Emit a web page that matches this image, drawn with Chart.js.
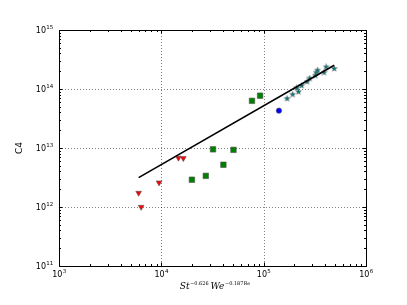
<!DOCTYPE html>
<html>
<head>
<meta charset="utf-8">
<script src="https://cdn.jsdelivr.net/npm/chart.js@4.4.1/dist/chart.umd.min.js"></script>
<style>
  html, body { margin: 0; padding: 0; background: #fff; }
  #wrap { width: 407px; height: 305px; }
</style>
</head>
<body>
<div id="wrap"><canvas id="c4Chart" width="407" height="305"></canvas></div>
<script>
// values, both axes logarithmic
const triX = [6000, 6350, 9500, 14700, 16400];
const triY = [1.73e12, 1.0e12, 2.59e12, 6.8e12, 6.7e12];
const sqX = [19900, 27200, 32000, 40400, 50700, 76900, 92300];
const sqY = [2.9e12, 3.37e12, 9.5e12, 5.2e12, 9.3e12, 6.3e13, 7.7e13];
const dotX = [141000];
const dotY = [4.3e13];
const starX = [169300, 191900, 218800, 210700, 235000, 265500, 281700, 320000, 326800, 336300, 389000, 407800, 489000];
const starY = [6.93e13, 8.16e13, 9.04e13, 1.05e14, 1.15e14, 1.34e14, 1.53e14, 1.71e14, 1.92e14, 2.09e14, 1.92e14, 2.38e14, 2.23e14];
const fitX = [6000, 489000];
const fitY = [3.14e12, 2.53e14];
const xTicks = [1e3, 1e4, 1e5, 1e6];
const yTicks = [1e11, 1e12, 1e13, 1e14, 1e15];
const xTitle = [['St', '\u22120.626'], ['We', '\u22120.187Re']];
const yTitle = 'C4';

const pts = (xs, ys) => xs.map((x, i) => ({ x: x, y: ys[i] }));

// matplotlib-like filled star marker
function makeStar() {
  const c = document.createElement('canvas');
  c.width = 7; c.height = 7;
  const g = c.getContext('2d');
  g.beginPath();
  for (let i = 0; i < 10; i++) {
    const r = i % 2 ? 1.3 : 3.1;
    const a = -Math.PI / 2 + i * Math.PI / 5;
    g.lineTo(3.5 + r * Math.cos(a), 3.7 + r * Math.sin(a));
  }
  g.closePath();
  g.fillStyle = '#007575';
  g.fill();
  g.lineWidth = 0.5;
  g.strokeStyle = '#666';
  g.stroke();
  return c;
}

function powLabel(ctx, exp, x, y, align) {
  ctx.font = '8px "DejaVu Sans"';
  const w1 = ctx.measureText('10').width;
  ctx.font = '5.5px "DejaVu Sans"';
  const w2 = ctx.measureText(exp).width;
  let x0 = align === 'right' ? x - w1 - w2 : x - (w1 + w2) / 2;
  ctx.textAlign = 'left';
  ctx.textBaseline = 'alphabetic';
  ctx.font = '8px "DejaVu Sans"';
  ctx.fillText('10', x0, y);
  ctx.font = '5.5px "DejaVu Sans"';
  ctx.fillText(exp, x0 + w1 + 0.3, y - 4.2);
}

const axesDeco = {
  id: 'axesDeco',
  beforeDatasetsDraw(chart) {
    const { ctx, chartArea: a, scales } = chart;
    ctx.save();
    ctx.strokeStyle = 'rgba(0,0,0,0.5)';
    ctx.lineWidth = 1;
    ctx.setLineDash([1, 2]);
    xTicks.slice(1, -1).forEach(v => {
      const px = Math.round(scales.x.getPixelForValue(v)) + 0.5;
      ctx.beginPath(); ctx.moveTo(px, a.top); ctx.lineTo(px, a.bottom); ctx.stroke();
    });
    yTicks.slice(1, -1).forEach(v => {
      const py = Math.round(scales.y.getPixelForValue(v)) + 0.5;
      ctx.beginPath(); ctx.moveTo(a.left, py); ctx.lineTo(a.right, py); ctx.stroke();
    });
    ctx.restore();
  },
  afterDraw(chart) {
    const { ctx, chartArea: a, scales } = chart;
    ctx.save();
    ctx.strokeStyle = '#000';
    ctx.lineWidth = 1;
    ctx.strokeRect(a.left + 0.5, a.top + 0.5, a.right - a.left, a.bottom - a.top);

    // ticks, inside, on all four sides
    const tick = (x1, y1, x2, y2) => { ctx.beginPath(); ctx.moveTo(x1, y1); ctx.lineTo(x2, y2); ctx.stroke(); };
    const xs = scales.x, ys = scales.y;
    for (let d = 3; d < 6; d++) {
      for (let m = 1; m < 10; m++) {
        const px = Math.round(xs.getPixelForValue(m * Math.pow(10, d))) + 0.5;
        const len = m === 1 ? 3.5 : 2;
        tick(px, a.bottom, px, a.bottom - len);
        tick(px, a.top, px, a.top + len);
      }
    }
    for (let d = 11; d < 15; d++) {
      for (let m = 1; m < 10; m++) {
        const py = Math.round(ys.getPixelForValue(m * Math.pow(10, d))) + 0.5;
        const len = m === 1 ? 3.5 : 2;
        tick(a.left, py, a.left + len, py);
        tick(a.right, py, a.right - len, py);
      }
    }

    // tick labels
    ctx.fillStyle = '#000';
    xTicks.forEach(v => powLabel(ctx, String(Math.round(Math.log10(v))), xs.getPixelForValue(v), a.bottom + 11, 'center'));
    yTicks.forEach(v => powLabel(ctx, String(Math.round(Math.log10(v))), a.left - 6, ys.getPixelForValue(v) + 3, 'right'));

    // axis titles
    ctx.save();
    ctx.translate(20, (a.top + a.bottom) / 2);
    ctx.rotate(-Math.PI / 2);
    ctx.textAlign = 'center';
    ctx.textBaseline = 'middle';
    ctx.font = '9px "DejaVu Sans"';
    ctx.fillText(yTitle, 0, 0);
    ctx.restore();

    const big = 'italic 9px "DejaVu Serif"', small = '5px "DejaVu Serif"';
    let total = 0;
    xTitle.forEach(([b, s], i) => {
      ctx.font = big; total += ctx.measureText(b).width;
      ctx.font = small; total += ctx.measureText(s).width + (i ? 0 : 2);
    });
    let x = (a.left + a.right) / 2 - total / 2 + 2;
    const base = a.bottom + 23;
    ctx.textAlign = 'left';
    ctx.textBaseline = 'alphabetic';
    xTitle.forEach(([b, s], i) => {
      ctx.font = big; ctx.fillText(b, x, base); x += ctx.measureText(b).width + 0.5;
      ctx.font = small; ctx.fillText(s, x, base - 4.5); x += ctx.measureText(s).width + 2;
    });
    ctx.restore();
  }
};

new Chart(document.getElementById('c4Chart').getContext('2d'), {
  type: 'scatter',
  data: {
    datasets: [
      { data: pts(fitX, fitY), showLine: true, borderColor: '#000', borderWidth: 1.6, pointRadius: 0, fill: false, order: 0 },
      { data: pts(triX, triY), pointStyle: 'triangle', rotation: 180, pointRadius: 3.3, backgroundColor: '#ff0000', borderColor: '#555', borderWidth: 0.6 },
      { data: pts(sqX, sqY), pointStyle: 'rect', pointRadius: 3.9, backgroundColor: '#008000', borderColor: '#555', borderWidth: 0.6 },
      { data: pts(dotX, dotY), pointStyle: 'circle', pointRadius: 2.7, backgroundColor: '#0000ff', borderColor: '#555', borderWidth: 0.6 },
      { data: pts(starX, starY), pointStyle: makeStar(), pointRadius: 3 }
    ]
  },
  options: {
    responsive: false,
    animation: false,
    events: [],
    layout: { padding: { left: 51, right: 41, top: 30, bottom: 31 } },
    plugins: { legend: { display: false }, tooltip: { enabled: false } },
    scales: {
      x: { type: 'logarithmic', min: 1e3, max: 1e6, ticks: { display: false }, grid: { display: false }, border: { display: false } },
      y: { type: 'logarithmic', min: 1e11, max: 1e15, ticks: { display: false }, grid: { display: false }, border: { display: false } }
    }
  },
  plugins: [axesDeco]
});
</script>
</body>
</html>
